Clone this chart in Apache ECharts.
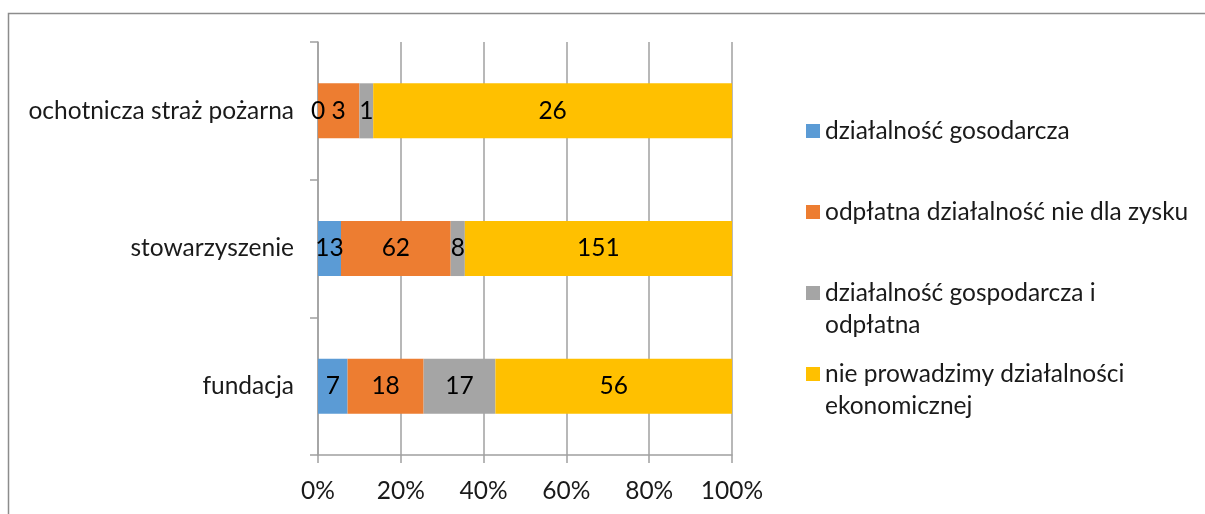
<!DOCTYPE html>
<html>
<head>
<meta charset="utf-8">
<script src="https://cdn.jsdelivr.net/npm/echarts@6/dist/echarts.min.js"></script>
<style>html,body{margin:0;padding:0;background:#fff;}#c{width:1205px;height:514px;}</style>
</head>
<body>
<div id="c"></div>
<script>
var categories = ['fundacja', 'stowarzyszenie', 'ochotnicza straż pożarna'];
var seriesNames = ['działalność gosodarcza', 'odpłatna działalność nie dla zysku', 'działalność gospodarcza i odpłatna', 'nie prowadzimy działalności ekonomicznej'];
var legendLine1 = ['działalność gosodarcza', 'odpłatna działalność nie dla zysku', 'działalność gospodarcza i', 'nie prowadzimy działalności'];
var legendLine2 = ['', '', 'odpłatna', 'ekonomicznej'];
var gospodarcza = [7, 13, 0];
var odplatna = [18, 62, 3];
var gospIOdpl = [17, 8, 1];
var nieProwadzimy = [56, 151, 26];
var xTickLabels = ['0%', '20%', '40%', '60%', '80%', '100%'];
var colors = ['#5b9bd5', '#ed7d31', '#a5a5a5', '#ffc000'];

var raw = [gospodarcza, odplatna, gospIOdpl, nieProwadzimy];
var totals = categories.map(function (c, i) {
  return raw.reduce(function (s, a) { return s + a[i]; }, 0);
});
var FONT = 'Lato';
var FS = 24.5;
var chart = echarts.init(document.getElementById('c'));
var series = raw.map(function (arr, k) {
  return {
    name: seriesNames[k],
    type: 'bar',
    stack: 'total',
    barWidth: '40%',
    itemStyle: { color: colors[k] },
    label: {
      show: true, position: 'inside', color: '#000', fontSize: FS, fontFamily: FONT,
      formatter: function (p) { return p.data.raw; }
    },
    data: arr.map(function (v, i) { return { value: v / totals[i] * 100, raw: v }; })
  };
});
var legendCenters = [131, 212, 293, 374];
var legends = seriesNames.map(function (n, k) {
  return {
    orient: 'vertical', left: 806, top: legendCenters[k] - 16, padding: 0,
    itemWidth: 14, itemHeight: 14, icon: 'rect', itemGap: 0,
    data: [{ name: n, itemStyle: { color: colors[k] } }],
    formatter: function () { return legendLine1[k]; },
    selectedMode: false,
    textStyle: { fontSize: FS, fontFamily: FONT, color: '#1a1a1a', lineHeight: 32 }
  };
});
var graphics = [{
  type: 'polyline', silent: true,
  shape: { points: [[8.5, 514], [8.5, 13.5], [1205, 13.5]] },
  style: { stroke: '#8c8c8c', lineWidth: 1.5, fill: null }
}];
legendLine2.forEach(function (t, k) {
  if (!t) return;
  graphics.push({
    type: 'text', silent: true, left: 825, top: legendCenters[k] + 32 - 16,
    style: { text: t, fontSize: FS, fontFamily: FONT, fill: '#1a1a1a', lineHeight: 32 }
  });
});
chart.setOption({
  animation: false,
  grid: { left: 318, right: 473, top: 42, bottom: 59, containLabel: false },
  xAxis: {
    type: 'value', min: 0, max: 100, interval: 20,
    axisLine: { show: true, lineStyle: { color: '#a0a0a0', width: 1.5 } },
    axisTick: { show: true, length: 8, lineStyle: { color: '#a0a0a0', width: 1.5 } },
    splitLine: { show: true, lineStyle: { color: '#a0a0a0', width: 1.5 } },
    axisLabel: {
      margin: 24, fontSize: FS, fontFamily: FONT, color: '#1a1a1a',
      formatter: function (v) { return xTickLabels[Math.round(v / 20)]; }
    }
  },
  yAxis: {
    type: 'category', data: categories,
    axisLine: { show: true, lineStyle: { color: '#a0a0a0', width: 1.5 } },
    axisTick: { show: true, length: 8, lineStyle: { color: '#a0a0a0', width: 1.5 } },
    axisLabel: { margin: 24, fontSize: FS, fontFamily: FONT, color: '#1a1a1a' }
  },
  legend: legends,
  series: series,
  graphic: graphics
});
</script>
</body>
</html>
